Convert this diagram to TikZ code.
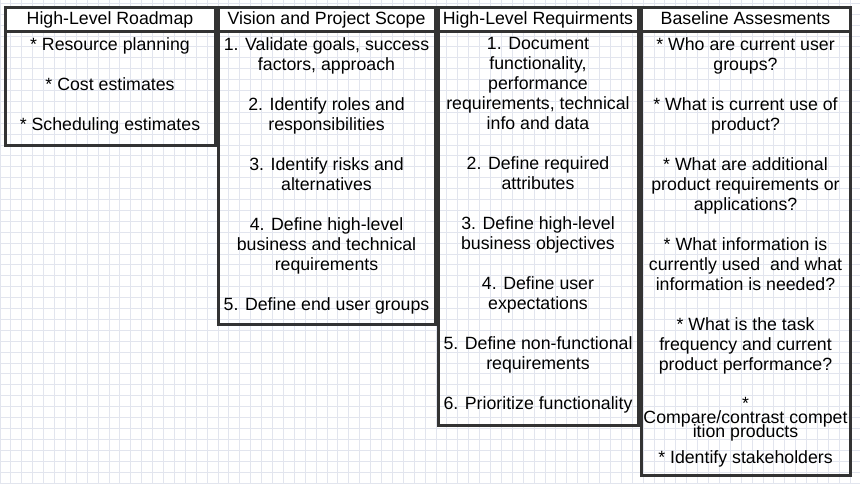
\documentclass[tikz,border=0pt]{standalone}
\usepackage{fontspec}
\setmainfont{Liberation Sans}
\definecolor{gridc}{HTML}{E2E5EE}
\definecolor{boxc}{HTML}{333333}
\def\px{0.75pt}
\begin{document}
\begin{tikzpicture}[x=0.75pt,y=-0.75pt,
  frame/.style={draw=boxc, line width=2.25pt, inner sep=0pt},
  head/.style={frame, fill=white, minimum height={24*\px}, text height=10.1pt, text depth=2.6pt,
    font=\fontsize{13.3}{15}\selectfont},
  bodybox/.style={frame},
  bodytext/.style={align=center, inner sep=0pt, anchor=north,
    font=\fontsize{13.3}{15}\selectfont, execute at begin node=\strut},
  tighttext/.style={align=center, inner sep=0pt, anchor=north,
    font={\fontsize{13.3}{10.5}\selectfont\lineskiplimit=-100pt\lineskip=0pt}, execute at begin node=\strut}
]
\useasboundingbox (0,0) rectangle (860,484);
\fill[white] (0,0) rectangle (860,484);
% grid
\foreach \i in {0,...,79} \draw[gridc, line width=0.75pt] (\i*10.9,0) -- (\i*10.9,484);
\foreach \j in {0,...,44} \draw[gridc, line width=0.75pt] (0,3.4+\j*10.9) -- (860,3.4+\j*10.9);

% column 1
\node[bodybox, minimum width={210*\px}, minimum height={114*\px}] (b1) at (110,89) {};
\node[head, minimum width={210*\px}] (h1) at (110,20) {High-Level Roadmap};
\node[bodytext] (t1) at (110,37) {* Resource planning\\[15pt]* Cost estimates\\[15pt]* Scheduling estimates};

% column 2
\node[bodybox, minimum width={217*\px}, minimum height={293*\px}] (b2) at (326.5,178.5) {};
\node[head, minimum width={217*\px}] (h2) at (326.5,20) {Vision and Project Scope};
\node[bodytext] (t2) at (326.5,37) {1. Validate goals, success\\factors, approach\\[15pt]2. Identify roles and\\responsibilities\\[15pt]3. Identify risks and\\alternatives\\[15pt]4. Define high-level\\business and technical\\requirements\\[15pt]5. Define end user groups};

% column 3
\node[bodybox, minimum width={200*\px}, minimum height={393*\px}] (b3) at (538,228.5) {};
\node[head, minimum width={200*\px}] (h3) at (538,20) {High-Level Requirments};
\node[bodytext] (t3) at (538,37) {1. Document\\functionality,\\performance\\requirements, technical\\info and data\\[15pt]2. Define required\\attributes\\[15pt]3. Define high-level\\business objectives\\[15pt]4. Define user\\expectations\\[15pt]5. Define non-functional\\requirements\\[15pt]6. Prioritize functionality};

% column 4
\node[bodybox, minimum width={209*\px}, minimum height={443*\px}] (b4) at (745.5,253.5) {};
\node[head, minimum width={209*\px}] (h4) at (745.5,20) {Baseline Assesments};
\node[bodytext] (t4) at (745.5,37) {* Who are current user\\groups?\\[15pt]* What is current use of\\product?\\[15pt]* What are additional\\product requirements or\\applications?\\[15pt]* What information is\\currently used~ and what\\information is needed?\\[15pt]* What is the task\\frequency and current\\product performance?};
\node[tighttext] (t4b) at (745.5,397.2) {*\\Compare/contrast compet\\ition products};
\node[bodytext] (t4c) at (745.5,449) {* Identify stakeholders};
\end{tikzpicture}
\end{document}
